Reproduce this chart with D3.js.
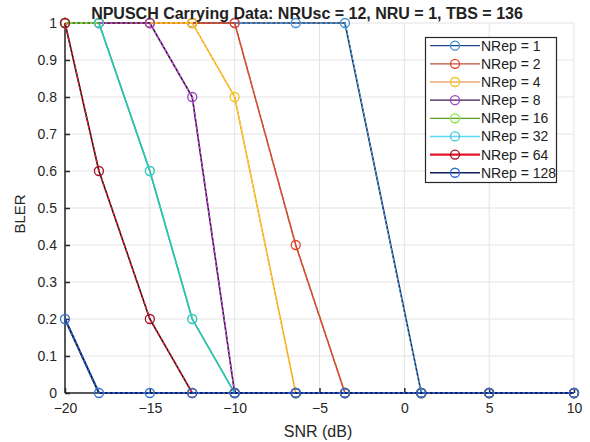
<!DOCTYPE html>
<html><head><meta charset="utf-8">
<script src="https://cdn.jsdelivr.net/npm/d3@7"></script>
<style>
html,body{margin:0;padding:0;background:#fff;}
svg{display:block;font-family:"Liberation Sans",Arial,sans-serif;}
</style></head>
<body>
<svg id="chart" width="590" height="442"></svg>
<script>
const snr = [-20, -18, -15, -12.5, -10, -6.4, -3.5, 1, 5, 10];
const xTicks = [-20, -15, -10, -5, 0, 5, 10];
const yTicks = [0, 0.1, 0.2, 0.3, 0.4, 0.5, 0.6, 0.7, 0.8, 0.9, 1];
const seriesNames = ["NRep = 1","NRep = 2","NRep = 4","NRep = 8","NRep = 16","NRep = 32","NRep = 64","NRep = 128"];
const bler1   = [1, 1, 1, 1, 1, 1, 1, 0, 0, 0];
const bler2   = [1, 1, 1, 1, 1, 0.4, 0, 0, 0, 0];
const bler4   = [1, 1, 1, 1, 0.8, 0, 0, 0, 0, 0];
const bler8   = [1, 1, 1, 0.8, 0, 0, 0, 0, 0, 0];
const bler16  = [1, 1, 0.6, 0.2, 0, 0, 0, 0, 0, 0];
const bler32  = [null, 1, 0.6, 0.2, 0, 0, 0, 0, 0, 0];
const bler64  = [1, 0.6, 0.2, 0, 0, 0, 0, 0, 0, 0];
const bler128 = [0.2, 0, 0, 0, 0, 0, 0, 0, 0, 0];
const allBler = [bler1, bler2, bler4, bler8, bler16, bler32, bler64, bler128];
// legend styles
const lineColors   = ["#1f4a8c","#b8553c","#e07c28","#3e1a4e","#5aa02c","#5fd8f5","#e0142a","#0e1f5a"];
const markerColors = ["#3d8fd8","#e8402a","#f5c21a","#9b3fc0","#8ee33a","#3cc8e0","#a01026","#2f6fd0"];
const lineWidths   = [1.2, 1.2, 1.2, 1.2, 1.2, 1.5, 2.2, 1.5];
// in-plot rendering: base stroke + dashed overlay
const plotBase    = ["#1a2a50","#c04a30","#f0a020","#2a1830","#50a030","#20c4cc","#2a1014","#0e1f5a"];
const plotOverlay = ["#4aa0e8","#e05030","#ffd030","#d040f0","#8ee33a",null,"#e8202a","#2a5ac8"];
const plotWidths  = [1.6, 1.5, 1.5, 1.6, 1.5, 1.5, 1.6, 2];

const svg = d3.select("#chart");
const m = {l:65, r:574, t:23, b:393};
const x = d3.scaleLinear().domain([-20, 10]).range([m.l, m.r]);
const y = d3.scaleLinear().domain([0, 1]).range([m.b, m.t]);
const axisColor = "#262626";

// grid
const g = svg.append("g");
g.selectAll(".vg").data(xTicks).enter().append("line")
  .attr("x1", d=>x(d)).attr("x2", d=>x(d)).attr("y1", m.t).attr("y2", m.b)
  .attr("stroke", "#e3e3e3").attr("stroke-width", 1);
g.selectAll(".hg").data(yTicks).enter().append("line")
  .attr("y1", d=>y(d)).attr("y2", d=>y(d)).attr("x1", m.l).attr("x2", m.r)
  .attr("stroke", "#e3e3e3").attr("stroke-width", 1);

// axes
const xAxis = d3.axisBottom(x).tickValues(xTicks).tickSize(-5).tickPadding(10).tickFormat(d3.format("d"));
const yAxis = d3.axisLeft(y).tickValues(yTicks).tickSize(-5).tickPadding(8).tickFormat(d => d === 0 ? "0" : d === 1 ? "1" : d3.format(".1f")(d));
const gx = svg.append("g").attr("transform", `translate(0,${m.b})`).call(xAxis);
const gy = svg.append("g").attr("transform", `translate(${m.l},0)`).call(yAxis);
[gx, gy].forEach(a => {
  a.select(".domain").attr("stroke", axisColor).attr("stroke-width", 1.5);
  a.selectAll(".tick line").attr("stroke", axisColor).attr("stroke-width", 1.5);
  a.selectAll(".tick text").attr("fill", axisColor).style("font-size", "14px")
   .style("font-family", '"Liberation Sans",Arial,sans-serif');
});
gx.select(".domain").attr("d", `M${m.l},0H${m.r}`);
gy.select(".domain").attr("d", `M0,${m.b}V${m.t}`);

// series
const line = d3.line().defined(d => d[1] !== null).x(d => x(d[0])).y(d => y(d[1]));
allBler.forEach((vals, i) => {
  const pts = snr.map((s, j) => [s, vals[j]]);
  svg.append("path").datum(pts).attr("d", line).attr("fill", "none")
    .attr("stroke", plotBase[i]).attr("stroke-width", plotWidths[i]);
  if (plotOverlay[i]) {
    svg.append("path").datum(pts).attr("d", line).attr("fill", "none")
      .attr("stroke", plotOverlay[i]).attr("stroke-width", plotWidths[i])
      .attr("stroke-dasharray", "2.5,2.5");
  }
  svg.selectAll(null).data(pts.filter(p => p[1] !== null)).enter().append("circle")
    .attr("cx", p => x(p[0])).attr("cy", p => y(p[1])).attr("r", 4.5)
    .attr("fill", "none").attr("stroke", markerColors[i]).attr("stroke-width", 1.3);
});

// title and labels
svg.append("text").attr("x", 307).attr("y", 19).attr("text-anchor", "middle")
  .style("font-size", "16px").style("font-weight", "bold").attr("fill", "#222")
  .text("NPUSCH Carrying Data: NRUsc = 12, NRU = 1, TBS = 136");
svg.append("text").attr("x", 318).attr("y", 437).attr("text-anchor", "middle")
  .style("font-size", "16px").attr("fill", axisColor).text("SNR (dB)");
svg.append("text").attr("transform", "translate(25,214) rotate(-90)").attr("text-anchor", "middle")
  .style("font-size", "15px").attr("fill", axisColor).text("BLER");

// legend
const lg = svg.append("g");
lg.append("rect").attr("x", 425.5).attr("y", 37.5).attr("width", 131).attr("height", 145)
  .attr("fill", "#fff").attr("stroke", "#262626").attr("stroke-width", 1.2);
seriesNames.forEach((name, i) => {
  const yy = 45.7 + i * 18.15;
  lg.append("line").attr("x1", 430).attr("x2", 480).attr("y1", yy).attr("y2", yy)
    .attr("stroke", lineColors[i]).attr("stroke-width", lineWidths[i]);
  lg.append("circle").attr("cx", 455).attr("cy", yy).attr("r", 4.5)
    .attr("fill", "none").attr("stroke", markerColors[i]).attr("stroke-width", 1.3);
  lg.append("text").attr("x", 481).attr("y", yy + 5).style("font-size", "14px")
    .attr("fill", "#222").text(name);
});
</script>
</body></html>
